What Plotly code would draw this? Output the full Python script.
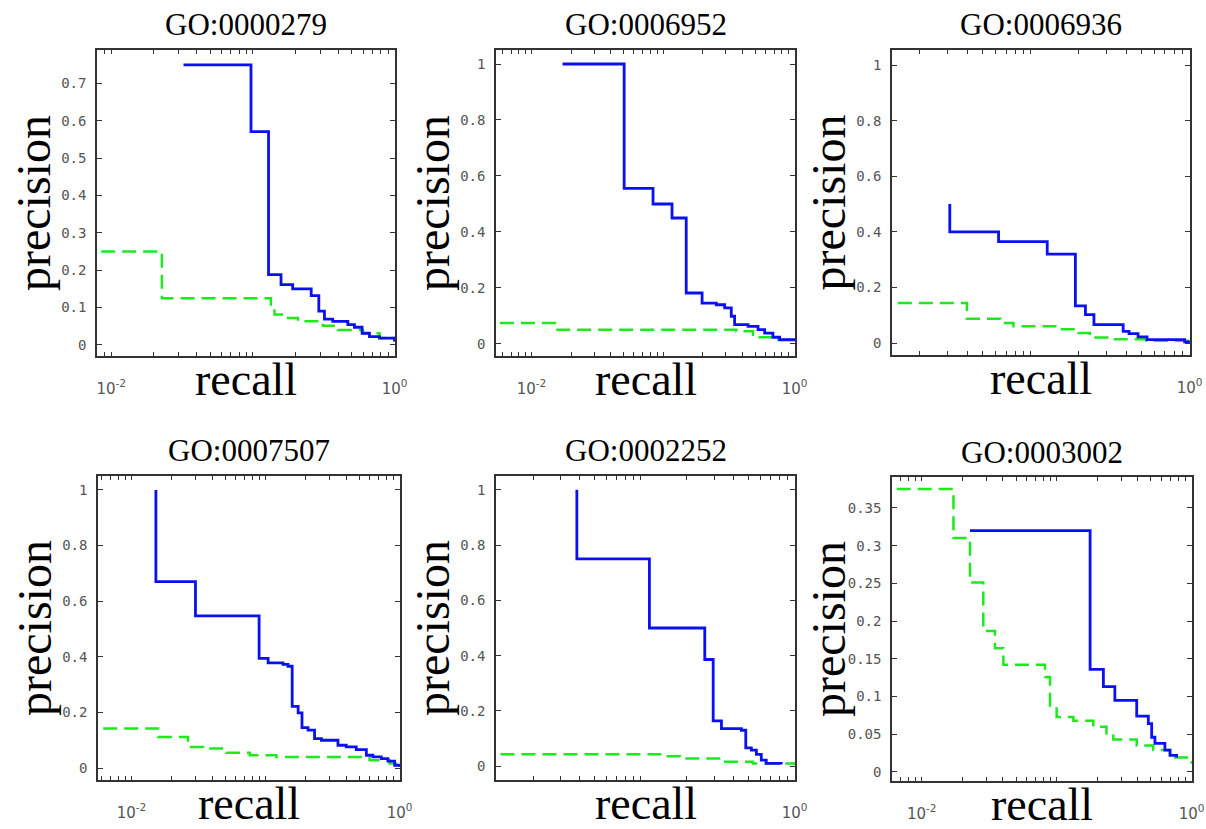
import plotly.graph_objects as go

W, H = 1206, 829

titles = ["GO:0000279", "GO:0006952", "GO:0006936", "GO:0007507", "GO:0002252", "GO:0003002"]

# ---- data: recall (x) and precision (y), step curves ----
blue_recall_1 = [0.0324, 0.097, 0.129, 0.158, 0.191, 0.258, 0.292, 0.32, 0.366, 0.468, 0.521, 0.59, 0.665, 0.783, 1.0]
blue_prec_1 = [0.75, 0.571, 0.188, 0.161, 0.15, 0.132, 0.09, 0.069, 0.063, 0.054, 0.047, 0.031, 0.022, 0.018, 0.009]
green_recall_1 = [0.0085, 0.0228, 0.134, 0.142, 0.171, 0.208, 0.312, 0.398, 0.597, 0.783, 1.0]
green_prec_1 = [0.25, 0.125, 0.103, 0.081, 0.072, 0.063, 0.051, 0.04, 0.031, 0.018, 0.009]

blue_recall_2 = [0.0172, 0.0506, 0.0839, 0.117, 0.150, 0.198, 0.254, 0.294, 0.330, 0.350, 0.443, 0.527, 0.592, 0.684, 0.769, 1.0]
blue_prec_2 = [1.0, 0.556, 0.5, 0.45, 0.182, 0.146, 0.14, 0.129, 0.099, 0.069, 0.063, 0.051, 0.039, 0.024, 0.015, 0.01]
green_recall_2 = [0.00575, 0.0150, 0.361, 0.483, 0.542, 0.726, 1.0]
green_prec_2 = [0.075, 0.051, 0.045, 0.033, 0.024, 0.015, 0.005]

blue_recall_3 = [0.0309, 0.0309, 0.0627, 0.127, 0.191, 0.221, 0.250, 0.382, 0.416, 0.474, 0.540, 0.931, 1.0]
blue_prec_3 = [0.5, 0.4, 0.365, 0.32, 0.134, 0.102, 0.066, 0.042, 0.034, 0.022, 0.012, 0.004, 0.002]
green_recall_3 = [0.01455, 0.0396, 0.0643, 0.0778, 0.153, 0.1995, 0.2355, 0.330, 0.535, 1.0]
green_prec_3 = [0.144, 0.087, 0.072, 0.06, 0.05, 0.036, 0.02, 0.014, 0.008, 0.002]

blue_recall_4 = [0.0152, 0.0152, 0.030, 0.0895, 0.1045, 0.135, 0.147, 0.158, 0.175, 0.187, 0.2075, 0.232, 0.261, 0.347, 0.400, 0.475, 0.565, 0.632, 0.730, 0.819, 0.918, 1.0]
blue_prec_4 = [1.0, 0.67, 0.547, 0.394, 0.378, 0.373, 0.366, 0.222, 0.198, 0.145, 0.136, 0.106, 0.1, 0.082, 0.076, 0.066, 0.046, 0.04, 0.034, 0.025, 0.01, 0.004]
green_recall_4 = [0.00615, 0.0158, 0.0264, 0.0342, 0.0511, 0.0762, 0.1205, 0.597, 0.841, 1.0]
green_prec_4 = [0.142, 0.112, 0.076, 0.07, 0.055, 0.046, 0.04, 0.028, 0.016, 0.004]

blue_recall_5 = [0.0385, 0.0385, 0.114, 0.261, 0.296, 0.335, 0.451, 0.482, 0.524, 0.565, 0.608, 0.655, 0.820]
blue_prec_5 = [1.0, 0.75, 0.5, 0.386, 0.164, 0.136, 0.13, 0.066, 0.058, 0.043, 0.022, 0.01, 0.007]
green_recall_5 = [0.01227, 0.147, 0.180, 0.344, 0.537, 1.0]
green_prec_5 = [0.043, 0.036, 0.028, 0.016, 0.01, 0.004]

blue_recall_6 = [0.0228, 0.177, 0.222, 0.270, 0.392, 0.478, 0.506, 0.535, 0.634, 0.692, 0.775]
blue_prec_6 = [0.32, 0.136, 0.113, 0.095, 0.074, 0.064, 0.046, 0.038, 0.029, 0.022, 0.019]
green_recall_6 = [0.00653, 0.0172, 0.0228, 0.0286, 0.0349, 0.0403, 0.0820, 0.0893, 0.1, 0.133, 0.187, 0.234, 0.263, 0.392, 0.520, 0.692, 1.0]
green_prec_6 = [0.375, 0.31, 0.251, 0.187, 0.164, 0.142, 0.126, 0.086, 0.073, 0.068, 0.06, 0.051, 0.043, 0.035, 0.029, 0.019, 0.011]

blue_recalls = [blue_recall_1, blue_recall_2, blue_recall_3, blue_recall_4, blue_recall_5, blue_recall_6]
blue_precs = [blue_prec_1, blue_prec_2, blue_prec_3, blue_prec_4, blue_prec_5, blue_prec_6]
green_recalls = [green_recall_1, green_recall_2, green_recall_3, green_recall_4, green_recall_5, green_recall_6]
green_precs = [green_prec_1, green_prec_2, green_prec_3, green_prec_4, green_prec_5, green_prec_6]

# axis ranges (log10 for x)
x_ranges = [[-2.1, 0.003], [-2.27, 0.003], [-1.874, 0.003], [-2.25, 0.003], [-1.94, 0.003], [-2.22, 0.003]]
y_ranges = [[-0.03, 0.79], [-0.043, 1.05], [-0.043, 1.054], [-0.043, 1.05], [-0.05, 1.05], [-0.012, 0.391]]
y_dticks = [0.1, 0.2, 0.2, 0.2, 0.2, 0.05]

# pixel boxes of plot areas: (left, right, top, bottom)
boxes = [(97, 395, 50, 356), (496, 795, 50, 356), (892, 1190, 50, 355),
         (98, 400, 476, 780), (496, 795, 476, 780), (892, 1192, 477, 781)]

# x ticks: every 1..9 multiple per decade, labels only at 10^-2 and 10^0
x_tick_vals = [m * d for d in (0.001, 0.01, 0.1) for m in range(1, 10)] + [1.0]
x_labels = {0.01: "10<sup>-2</sup>", 1.0: "10<sup>0</sup>"}

fig = go.Figure()
annotations = []
layout = {}
serif = "Liberation Serif, Times New Roman, serif"
tickfont = dict(family="DejaVu Sans Mono, monospace", size=14, color="#555")

for i in range(6):
    n = "" if i == 0 else str(i + 1)
    xa, ya = "x" + n, "y" + n
    L, R, T, B = boxes[i]
    lo = 10 ** x_ranges[i][0]
    vals = [v for v in x_tick_vals if v >= lo]
    texts = [x_labels.get(round(v, 6), " ") for v in vals]
    fig.add_trace(go.Scatter(x=green_recalls[i], y=green_precs[i], mode="lines", line_shape="hv",
                             line=dict(color="#1ee81e", width=2.5, dash="14px,7px"),
                             xaxis=xa, yaxis=ya, showlegend=False))
    fig.add_trace(go.Scatter(x=blue_recalls[i], y=blue_precs[i], mode="lines", line_shape="hv",
                             line=dict(color="#0a10f0", width=2.8),
                             xaxis=xa, yaxis=ya, showlegend=False))
    layout["xaxis" + n] = dict(
        type="log", range=x_ranges[i], domain=[L / W, R / W], anchor=ya, automargin=False,
        showgrid=False, zeroline=False, showline=True, linecolor="#333", linewidth=1.5,
        mirror="ticks", ticks="inside", ticklen=4, tickcolor="#333", tickwidth=1,
        tickmode="array", tickvals=vals, ticktext=texts, tickangle=0,
        tickfont=dict(family="DejaVu Sans", size=15, color="#555"), ticklabelstandoff=18,
    )
    layout["yaxis" + n] = dict(
        range=y_ranges[i], domain=[1 - B / H, 1 - T / H], anchor=xa, automargin=False,
        showgrid=False, zeroline=False, showline=True, linecolor="#333", linewidth=1.5,
        mirror="ticks", ticks="inside", ticklen=5, tickcolor="#333", tickwidth=1,
        dtick=y_dticks[i], tick0=0, tickfont=tickfont, ticklabelstandoff=6,
    )
    cx = (L + R) / 2
    cy = (T + B) / 2
    annotations.append(dict(text=titles[i], x=cx / W, y=1 - (T - 25) / H, xref="paper", yref="paper",
                            showarrow=False, font=dict(family=serif, size=31, color="black"),
                            xanchor="center", yanchor="middle"))
    annotations.append(dict(text="recall", x=cx / W, y=1 - (B + 23) / H, xref="paper", yref="paper",
                            showarrow=False, font=dict(family=serif, size=46, color="black"),
                            xanchor="center", yanchor="middle"))
    annotations.append(dict(text="precision", x=(L - 64) / W, y=1 - cy / H, xref="paper", yref="paper",
                            showarrow=False, textangle=-90, font=dict(family=serif, size=48, color="black"),
                            xanchor="center", yanchor="middle"))

fig.update_layout(width=W, height=H, margin=dict(l=0, r=0, t=0, b=0),
                  paper_bgcolor="white", plot_bgcolor="white", annotations=annotations, **layout)
fig.write_html("out.html", config={"displayModeBar": False},
               post_script="document.body.style.margin='0';document.body.style.overflow='hidden';")
